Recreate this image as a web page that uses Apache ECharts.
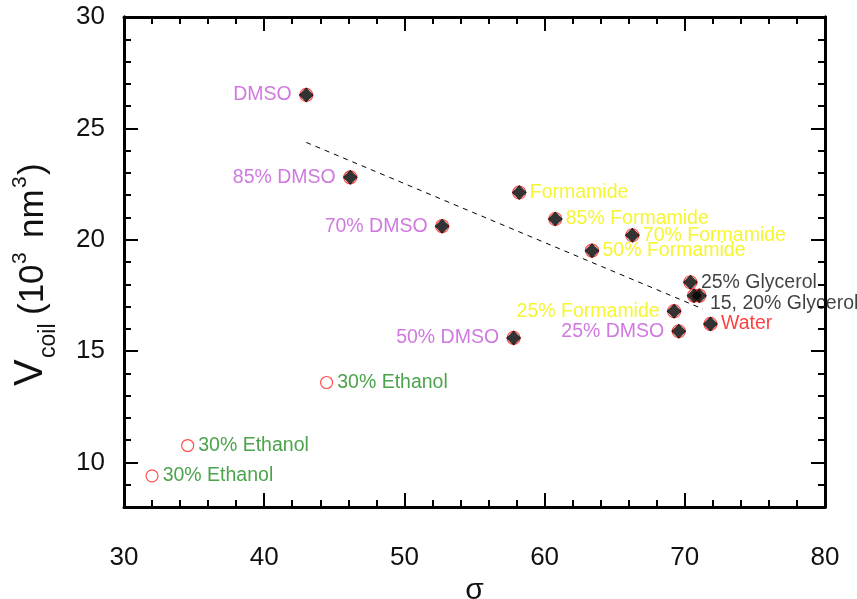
<!DOCTYPE html>
<html>
<head>
<meta charset="utf-8">
<script src="https://cdn.jsdelivr.net/npm/echarts@6/dist/echarts.min.js"></script>
<style>
html,body{margin:0;padding:0;background:#fff;}
#chart{width:857px;height:599px;}
</style>
</head>
<body>
<div id="chart"></div>
<script>
// ---- data ----
var pointLabels = ['DMSO','85% DMSO','70% DMSO','50% DMSO','25% DMSO',
  'Formamide','85% Formamide','70% Formamide','50% Formamide','25% Formamide',
  '25% Glycerol','','15, 20% Glycerol','Water'];
var pointGroup = ['dmso','dmso','dmso','dmso','dmso',
  'formamide','formamide','formamide','formamide','formamide',
  'glycerol','glycerol','glycerol','water'];
var pointSigma = [43.0, 46.14, 52.69, 57.79, 69.57, 58.19, 60.76, 66.26, 63.38, 69.24, 70.40, 70.66, 71.04, 71.83];
var pointV     = [26.50, 22.80, 20.61, 15.59, 15.89, 22.12, 20.93, 20.20, 19.51, 16.79, 18.09, 17.49, 17.49, 16.22];

var ethanolLabel = '30% Ethanol';
var ethanolSigma = [44.45, 34.54, 32.0];
var ethanolV     = [13.59, 10.76, 9.40];

var fitSigma = [43.0, 71.29];
var fitV     = [24.37, 16.89];

var xTicks = [30, 40, 50, 60, 70, 80];
var yTicks = [10, 15, 20, 25, 30];
var yMin = 8, yMax = 30;

// ---- styles ----
var FONT = 'Liberation Sans';
var LABEL_SIZE = 19.5;
var groupColor = {dmso:'#c458d8', formamide:'#f2f200', glycerol:'#111111', water:'#ff1010'};
var ethanolColor = '#1e8c1e';
var leftSide = {'DMSO':1,'85% DMSO':1,'70% DMSO':1,'50% DMSO':1,'25% DMSO':1,'25% Formamide':1};

function labelFor(text, group){
  var left = !!leftSide[text];
  var lab = {show: !!text, formatter: text, position: left ? 'left' : 'right',
    distance: left ? 7 : 3, color: groupColor[group], fontFamily: FONT, fontSize: LABEL_SIZE};
  if (text === '15, 20% Glycerol') { lab.offset = [0, 8]; }
  return lab;
}

var ringData = pointSigma.map(function(s,i){ return [s, pointV[i]]; });
var diamondData = pointSigma.map(function(s,i){
  return {value:[s, pointV[i]], label: labelFor(pointLabels[i], pointGroup[i])};
});
var ethanolData = ethanolSigma.map(function(s,i){
  return {value:[s, ethanolV[i]], label:{show:true, formatter: ethanolLabel, position:'right', distance:4,
    color: ethanolColor, fontFamily: FONT, fontSize: LABEL_SIZE}};
});
var fitData = fitSigma.map(function(s,i){ return [s, fitV[i]]; });

var LINE = {show:true, onZero:false, lineStyle:{color:'#000', width:3}};
function xAx(pos, showLabel){
  return {type:'value', position:pos, min:xTicks[0], max:xTicks[xTicks.length-1], interval:10,
    axisLine:LINE,
    axisTick:{show:true, inside:true, length:14, lineStyle:{color:'#000', width:2}},
    minorTick:{show:true, splitNumber:5, length:7, lineStyle:{color:'#000', width:2}},
    splitLine:{show:false}, minorSplitLine:{show:false},
    axisLabel:{show:showLabel, margin:38, fontFamily:FONT, fontSize:26, color:'#111'}};
}
function yMinorAx(pos){
  return {type:'value', position:pos, min:yMin, max:yMax, interval:1,
    axisLine:LINE,
    axisTick:{show:true, inside:true, length:7, lineStyle:{color:'#000', width:2}},
    axisLabel:{show:false}, splitLine:{show:false}};
}
function yMajorAx(pos, showLabel){
  return {type:'value', position:pos, min:yMin, max:yMax,
    axisLine:LINE,
    axisTick:{show:true, inside:true, length:14, customValues:yTicks, lineStyle:{color:'#000', width:2}},
    axisLabel:{show:showLabel, customValues:yTicks, margin:19, fontFamily:FONT, fontSize:26, color:'#111'},
    splitLine:{show:false}};
}

var chart = echarts.init(document.getElementById('chart'), null, {renderer:'canvas'});
var xBottom = xAx('bottom', true);
xBottom.name = 'σ'; xBottom.nameLocation = 'middle'; xBottom.nameGap = 69;
xBottom.nameTextStyle = {fontFamily:FONT, fontSize:30, color:'#111'};

var option = {
  backgroundColor:'#fff',
  animation:false,
  grid:{left:124, right:32, top:17, bottom:92, containLabel:false, outerBoundsMode:'none'},
  xAxis:[xBottom, xAx('top', false)],
  yAxis:[yMinorAx('left'), yMajorAx('left', true), yMinorAx('right'), yMajorAx('right', false)],
  series:[
    {type:'line', data:fitData, symbol:'none', silent:true,
      lineStyle:{color:'#000', width:1, type:[5,5]}, z:1},
    {type:'scatter', data:ringData, symbol:'circle', symbolSize:13,
      itemStyle:{color:'rgba(0,0,0,0)', borderColor:'#ff2020', borderWidth:1.2}, z:2},
    {type:'scatter', data:diamondData, symbol:'diamond', symbolSize:15,
      itemStyle:{color:'#000'}, z:3},
    {type:'scatter', data:ethanolData, symbol:'circle', symbolSize:12,
      itemStyle:{color:'rgba(0,0,0,0)', borderColor:'#ff2020', borderWidth:1.2}, z:3}
  ],
  graphic:[
    {type:'group', x:51, y:386, rotation:Math.PI/2, children:[
      {type:'text', x:0, y:0, style:{text:'V', fontFamily:FONT, fontSize:40, fill:'#111', textVerticalAlign:'bottom', textAlign:'left'}},
      {type:'text', x:28, y:9, style:{text:'coil', fontFamily:FONT, fontSize:23, fill:'#111', textVerticalAlign:'bottom', textAlign:'left'}},
      {type:'text', x:71, y:0, style:{text:'(10', fontFamily:FONT, fontSize:35, fill:'#111', textVerticalAlign:'bottom', textAlign:'left'}},
      {type:'text', x:122, y:-20, style:{text:'3', fontFamily:FONT, fontSize:21, fill:'#111', textVerticalAlign:'bottom', textAlign:'left'}},
      {type:'text', x:148, y:0, style:{text:'nm', fontFamily:FONT, fontSize:35, fill:'#111', textVerticalAlign:'bottom', textAlign:'left'}},
      {type:'text', x:198, y:-20, style:{text:'3', fontFamily:FONT, fontSize:21, fill:'#111', textVerticalAlign:'bottom', textAlign:'left'}},
      {type:'text', x:211, y:0, style:{text:')', fontFamily:FONT, fontSize:35, fill:'#111', textVerticalAlign:'bottom', textAlign:'left'}}
    ]}
  ]
};
chart.setOption(option);
</script>
</body>
</html>
